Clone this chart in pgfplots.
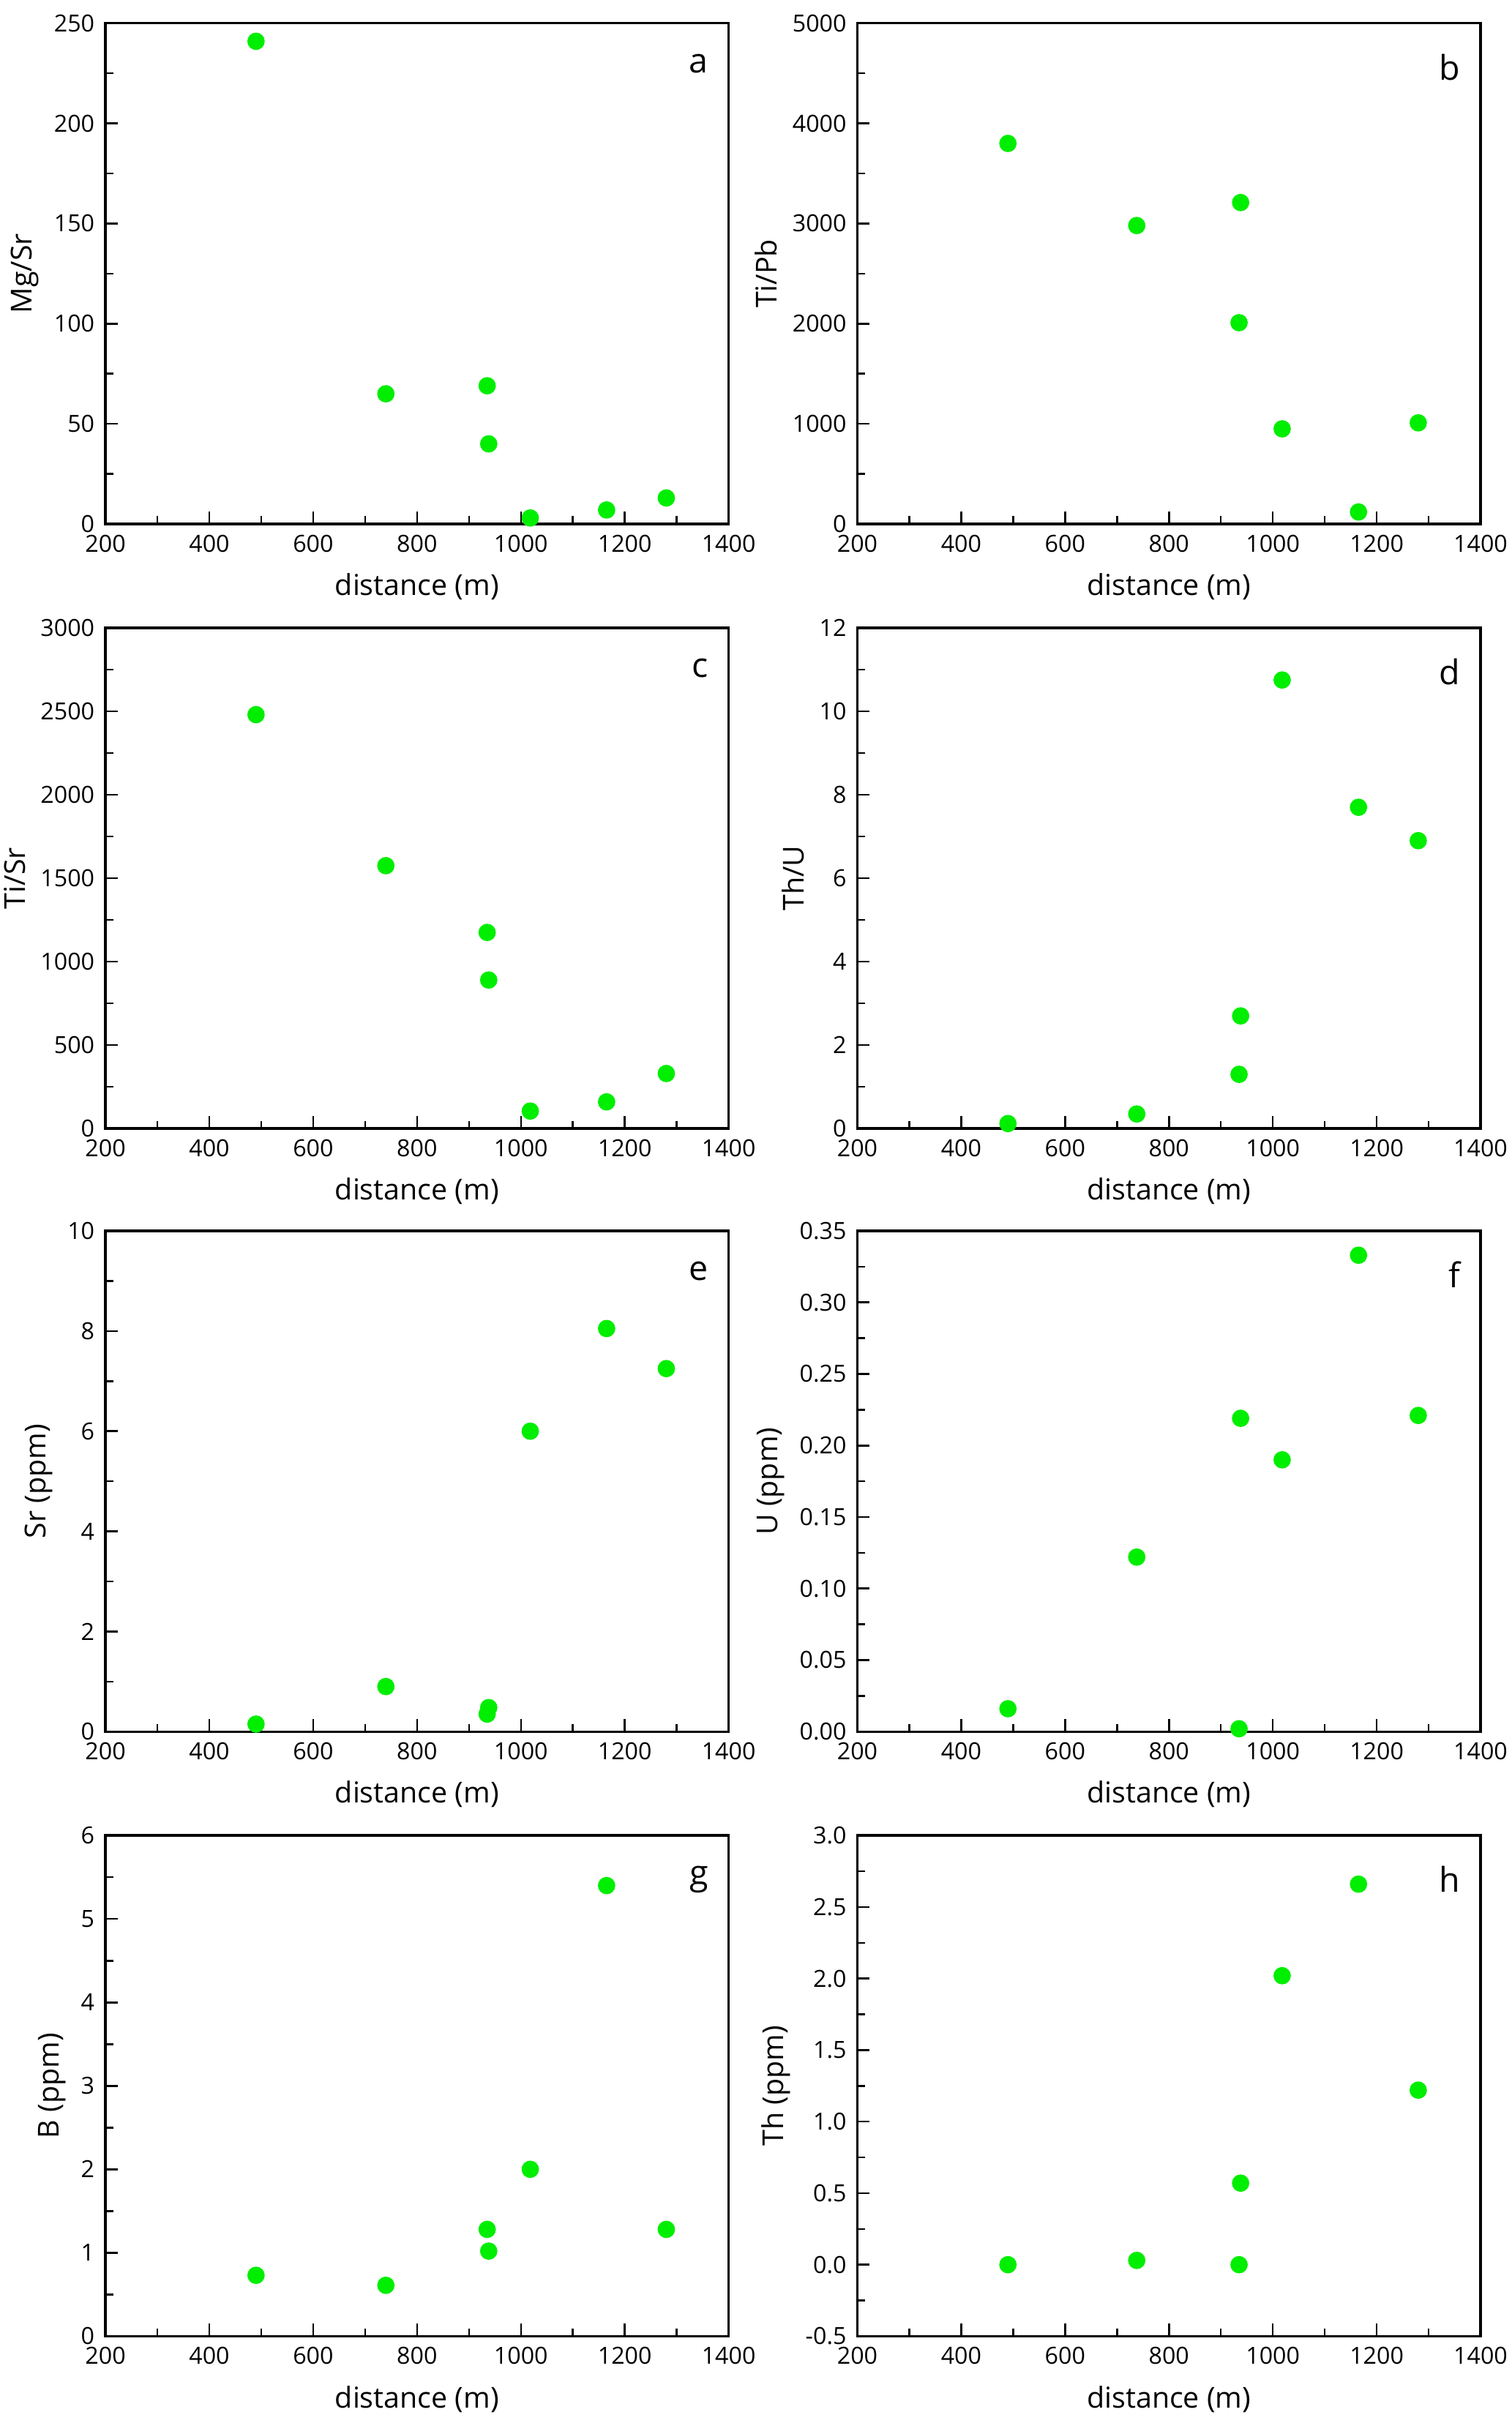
\documentclass[border=0pt]{standalone}
\usepackage{pgfplots}
\pgfplotsset{compat=1.18}
\usepackage{fontspec}
\setmainfont{Open Sans}
\definecolor{pt}{RGB}{0,238,0}
\tikzset{lab/.style={font=\fontsize{11}{12}\selectfont, anchor=north east}}
\pgfplotsset{
  myax/.style={scale only axis, width=201pt, height=161.5pt,
    xmin=200,xmax=1400, xtick={200,400,...,1400}, minor x tick num=1, minor y tick num=1,
    tick align=inside, axis line style={line width=0.8pt}, tick style={line width=0.6pt, black},
    major tick length=4pt, minor tick length=2.5pt,
    xtick pos=bottom, ytick pos=left,
    /pgf/number format/assume math mode=true,
    ticklabel style={font=\fontsize{7.6}{9}\selectfont},
    label style={font=\fontsize{9.3}{11}\selectfont},
    xlabel={distance (m)}, scaled y ticks=false,
    ylabel style={yshift=-2pt},
    y tick label style={/pgf/number format/fixed,/pgf/number format/1000 sep={}},
    x tick label style={/pgf/number format/1000 sep={}},
    clip=false},
  dots/.style={only marks, mark=*, mark size=2.6pt, mark options={fill=pt, draw=pt}},
}
\begin{document}
\begin{tikzpicture}
\useasboundingbox (0,0) rectangle (487.5pt,-781.5pt);
% a
\begin{axis}[myax, at={(34pt,-169pt)}, anchor=south west, ymin=0,ymax=250, ytick={0,50,...,250}, ylabel={Mg/Sr}]
\addplot[dots] coordinates {(490,241) (740,65) (935,69) (938,40) (1018,3) (1165,7) (1280,13)};
\node[lab] at (rel axis cs:0.985,0.96) {a};
\end{axis}
% b
\begin{axis}[myax, at={(276.5pt,-169pt)}, anchor=south west, ymin=0,ymax=5000, ytick={0,1000,...,5000}, ylabel={Ti/Pb}]
\addplot[dots] coordinates {(490,3800) (738,2980) (938,3210) (935,2010) (1018,950) (1165,120) (1280,1010)};
\node[lab] at (rel axis cs:0.985,0.96) {b};
\end{axis}
% c
\begin{axis}[myax, at={(34pt,-364pt)}, anchor=south west, ymin=0,ymax=3000, ytick={0,500,...,3000}, ylabel={Ti/Sr}]
\addplot[dots] coordinates {(490,2480) (740,1575) (935,1175) (938,890) (1018,105) (1165,160) (1280,330)};
\node[lab] at (rel axis cs:0.985,0.96) {c};
\end{axis}
% d
\begin{axis}[myax, at={(276.5pt,-364pt)}, anchor=south west, ymin=0,ymax=12, ytick={0,2,...,12}, ylabel={Th/U}]
\addplot[dots] coordinates {(490,0.12) (738,0.35) (938,2.7) (935,1.3) (1018,10.75) (1165,7.7) (1280,6.9)};
\node[lab] at (rel axis cs:0.985,0.96) {d};
\end{axis}
% e
\begin{axis}[myax, at={(34pt,-558.5pt)}, anchor=south west, ymin=0,ymax=10, ytick={0,2,...,10}, ylabel={Sr (ppm)}]
\addplot[dots] coordinates {(490,0.15) (740,0.9) (935,0.35) (938,0.48) (1018,6) (1165,8.05) (1280,7.25)};
\node[lab] at (rel axis cs:0.985,0.96) {e};
\end{axis}
% f
\begin{axis}[myax, at={(276.5pt,-558.5pt)}, anchor=south west, ymin=0,ymax=0.35, ytick={0,0.05,...,0.351}, ylabel={U (ppm)},
  y tick label style={/pgf/number format/fixed zerofill,/pgf/number format/precision=2}]
\addplot[dots] coordinates {(490,0.016) (738,0.122) (938,0.219) (935,0.002) (1018,0.19) (1165,0.333) (1280,0.221)};
\node[lab] at (rel axis cs:0.985,0.96) {f};
\end{axis}
% g
\begin{axis}[myax, at={(34pt,-753.5pt)}, anchor=south west, ymin=0,ymax=6, ytick={0,1,...,6}, ylabel={B (ppm)}]
\addplot[dots] coordinates {(490,0.73) (740,0.61) (935,1.28) (938,1.02) (1018,2) (1165,5.4) (1280,1.28)};
\node[lab] at (rel axis cs:0.985,0.96) {g};
\end{axis}
% h
\begin{axis}[myax, at={(276.5pt,-753.5pt)}, anchor=south west, ymin=-0.5,ymax=3, ytick={-0.5,0,...,3}, ylabel={Th (ppm)},
  y tick label style={/pgf/number format/fixed zerofill,/pgf/number format/precision=1}]
\addplot[dots] coordinates {(490,0) (738,0.03) (938,0.57) (935,0) (1018,2.02) (1165,2.66) (1280,1.22)};
\node[lab] at (rel axis cs:0.985,0.96) {h};
\end{axis}
\end{tikzpicture}
\end{document}
